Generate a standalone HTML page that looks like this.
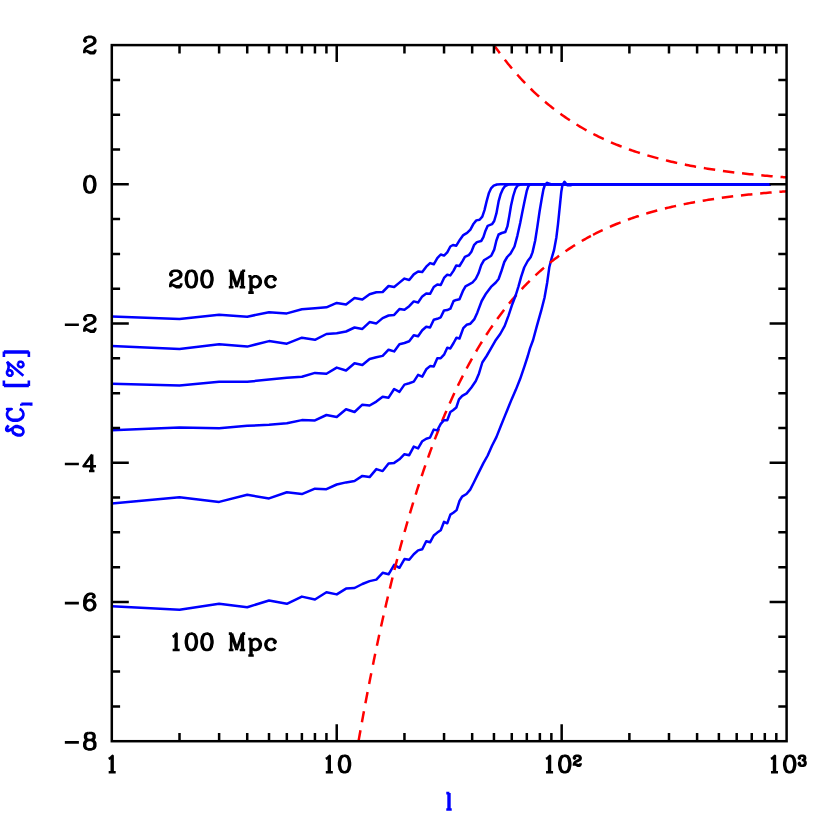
<!DOCTYPE html>
<html><head><meta charset="utf-8"><style>
html,body{margin:0;padding:0;background:#fff;}
body{width:830px;height:830px;overflow:hidden;font-family:"Liberation Sans",sans-serif;}
svg{display:block;}
</style></head><body>
<svg width="830" height="830" viewBox="0 0 830 830">
<rect width="830" height="830" fill="#fff"/>
<path d="M85.12,40.03 L85.90,40.81 L85.12,41.59 L84.34,40.81 L84.34,40.03 L85.12,38.47 L85.90,37.69 L88.24,36.91 L91.36,36.91 L93.70,37.69 L94.48,38.47 L95.26,40.03 L95.26,41.59 L94.48,43.15 L92.14,44.71 L88.24,46.27 L86.68,47.05 L85.12,48.61 L84.34,50.95 L84.34,53.29 M91.36,36.91 L92.92,37.69 L93.70,38.47 L94.48,40.03 L94.48,41.59 L93.70,43.15 L91.36,44.71 L88.24,46.27 M84.34,51.73 L85.12,50.95 L86.68,50.95 L90.58,52.51 L92.92,52.51 L94.48,51.73 L95.26,50.95 M86.68,50.95 L90.58,53.29 L93.70,53.29 L94.48,52.51 L95.26,50.95 L95.26,49.39" fill="none" stroke="#000" stroke-width="2.60" stroke-linecap="butt" stroke-linejoin="round"/>
<path d="M89.02,176.13 L86.68,176.91 L85.12,179.25 L84.34,183.15 L84.34,185.49 L85.12,189.39 L86.68,191.73 L89.02,192.51 L90.58,192.51 L92.92,191.73 L94.48,189.39 L95.26,185.49 L95.26,183.15 L94.48,179.25 L92.92,176.91 L90.58,176.13 L89.02,176.13 M89.02,176.13 L87.46,176.91 L86.68,177.69 L85.90,179.25 L85.12,183.15 L85.12,185.49 L85.90,189.39 L86.68,190.95 L87.46,191.73 L89.02,192.51 M90.58,192.51 L92.14,191.73 L92.92,190.95 L93.70,189.39 L94.48,185.49 L94.48,183.15 L93.70,179.25 L92.92,177.69 L92.14,176.91 L90.58,176.13" fill="none" stroke="#000" stroke-width="2.60" stroke-linecap="butt" stroke-linejoin="round"/>
<path d="M64.84,324.71 L78.88,324.71 M85.12,318.47 L85.90,319.25 L85.12,320.03 L84.34,319.25 L84.34,318.47 L85.12,316.91 L85.90,316.13 L88.24,315.35 L91.36,315.35 L93.70,316.13 L94.48,316.91 L95.26,318.47 L95.26,320.03 L94.48,321.59 L92.14,323.15 L88.24,324.71 L86.68,325.49 L85.12,327.05 L84.34,329.39 L84.34,331.73 M91.36,315.35 L92.92,316.13 L93.70,316.91 L94.48,318.47 L94.48,320.03 L93.70,321.59 L91.36,323.15 L88.24,324.71 M84.34,330.17 L85.12,329.39 L86.68,329.39 L90.58,330.95 L92.92,330.95 L94.48,330.17 L95.26,329.39 M86.68,329.39 L90.58,331.73 L93.70,331.73 L94.48,330.95 L95.26,329.39 L95.26,327.83" fill="none" stroke="#000" stroke-width="2.60" stroke-linecap="butt" stroke-linejoin="round"/>
<path d="M64.84,463.93 L78.88,463.93 M91.36,456.13 L91.36,470.95 M92.14,454.57 L92.14,470.95 M92.14,454.57 L83.56,466.27 L96.04,466.27 M89.02,470.95 L94.48,470.95" fill="none" stroke="#000" stroke-width="2.60" stroke-linecap="butt" stroke-linejoin="round"/>
<path d="M64.84,603.15 L78.88,603.15 M93.70,596.13 L92.92,596.91 L93.70,597.69 L94.48,596.91 L94.48,596.13 L93.70,594.57 L92.14,593.79 L89.80,593.79 L87.46,594.57 L85.90,596.13 L85.12,597.69 L84.34,600.81 L84.34,605.49 L85.12,607.83 L86.68,609.39 L89.02,610.17 L90.58,610.17 L92.92,609.39 L94.48,607.83 L95.26,605.49 L95.26,604.71 L94.48,602.37 L92.92,600.81 L90.58,600.03 L89.80,600.03 L87.46,600.81 L85.90,602.37 L85.12,604.71 M89.80,593.79 L88.24,594.57 L86.68,596.13 L85.90,597.69 L85.12,600.81 L85.12,605.49 L85.90,607.83 L87.46,609.39 L89.02,610.17 M90.58,610.17 L92.14,609.39 L93.70,607.83 L94.48,605.49 L94.48,604.71 L93.70,602.37 L92.14,600.81 L90.58,600.03" fill="none" stroke="#000" stroke-width="2.60" stroke-linecap="butt" stroke-linejoin="round"/>
<path d="M64.84,742.37 L78.88,742.37 M88.24,733.01 L85.90,733.79 L85.12,735.35 L85.12,737.69 L85.90,739.25 L88.24,740.03 L91.36,740.03 L93.70,739.25 L94.48,737.69 L94.48,735.35 L93.70,733.79 L91.36,733.01 L88.24,733.01 M88.24,733.01 L86.68,733.79 L85.90,735.35 L85.90,737.69 L86.68,739.25 L88.24,740.03 M91.36,740.03 L92.92,739.25 L93.70,737.69 L93.70,735.35 L92.92,733.79 L91.36,733.01 M88.24,740.03 L85.90,740.81 L85.12,741.59 L84.34,743.15 L84.34,746.27 L85.12,747.83 L85.90,748.61 L88.24,749.39 L91.36,749.39 L93.70,748.61 L94.48,747.83 L95.26,746.27 L95.26,743.15 L94.48,741.59 L93.70,740.81 L91.36,740.03 M88.24,740.03 L86.68,740.81 L85.90,741.59 L85.12,743.15 L85.12,746.27 L85.90,747.83 L86.68,748.61 L88.24,749.39 M91.36,749.39 L92.92,748.61 L93.70,747.83 L94.48,746.27 L94.48,743.15 L93.70,741.59 L92.92,740.81 L91.36,740.03" fill="none" stroke="#000" stroke-width="2.60" stroke-linecap="butt" stroke-linejoin="round"/>
<path d="M108.68,758.93 L110.24,758.15 L112.58,755.81 L112.58,772.19 M111.80,756.59 L111.80,772.19 M108.68,772.19 L115.70,772.19" fill="none" stroke="#000" stroke-width="2.60" stroke-linecap="butt" stroke-linejoin="round"/>
<path d="M325.81,758.93 L327.37,758.15 L329.71,755.81 L329.71,772.19 M328.93,756.59 L328.93,772.19 M325.81,772.19 L332.83,772.19 M343.75,755.81 L341.41,756.59 L339.85,758.93 L339.07,762.83 L339.07,765.17 L339.85,769.07 L341.41,771.41 L343.75,772.19 L345.31,772.19 L347.65,771.41 L349.21,769.07 L349.99,765.17 L349.99,762.83 L349.21,758.93 L347.65,756.59 L345.31,755.81 L343.75,755.81 M343.75,755.81 L342.19,756.59 L341.41,757.37 L340.63,758.93 L339.85,762.83 L339.85,765.17 L340.63,769.07 L341.41,770.63 L342.19,771.41 L343.75,772.19 M345.31,772.19 L346.87,771.41 L347.65,770.63 L348.43,769.07 L349.21,765.17 L349.21,762.83 L348.43,758.93 L347.65,757.37 L346.87,756.59 L345.31,755.81" fill="none" stroke="#000" stroke-width="2.60" stroke-linecap="butt" stroke-linejoin="round"/>
<path d="M546.05,758.93 L547.61,758.15 L549.95,755.81 L549.95,772.19 M549.17,756.59 L549.17,772.19 M546.05,772.19 L553.07,772.19 M563.99,755.81 L561.65,756.59 L560.09,758.93 L559.31,762.83 L559.31,765.17 L560.09,769.07 L561.65,771.41 L563.99,772.19 L565.55,772.19 L567.89,771.41 L569.45,769.07 L570.23,765.17 L570.23,762.83 L569.45,758.93 L567.89,756.59 L565.55,755.81 L563.99,755.81 M563.99,755.81 L562.43,756.59 L561.65,757.37 L560.87,758.93 L560.09,762.83 L560.09,765.17 L560.87,769.07 L561.65,770.63 L562.43,771.41 L563.99,772.19 M565.55,772.19 L567.11,771.41 L567.89,770.63 L568.67,769.07 L569.45,765.17 L569.45,762.83 L568.67,758.93 L567.89,757.37 L567.11,756.59 L565.55,755.81" fill="none" stroke="#000" stroke-width="2.60" stroke-linecap="butt" stroke-linejoin="round"/>
<path d="M574.45,757.69 L574.92,758.16 L574.45,758.63 L573.98,758.16 L573.98,757.69 L574.45,756.75 L574.92,756.28 L576.33,755.81 L578.21,755.81 L579.62,756.28 L580.09,756.75 L580.56,757.69 L580.56,758.63 L580.09,759.57 L578.68,760.51 L576.33,761.45 L575.39,761.92 L574.45,762.86 L573.98,764.27 L573.98,765.68 M578.21,755.81 L579.15,756.28 L579.62,756.75 L580.09,757.69 L580.09,758.63 L579.62,759.57 L578.21,760.51 L576.33,761.45 M573.98,764.74 L574.45,764.27 L575.39,764.27 L577.74,765.21 L579.15,765.21 L580.09,764.74 L580.56,764.27 M575.39,764.27 L577.74,765.68 L579.62,765.68 L580.09,765.21 L580.56,764.27 L580.56,763.33" fill="none" stroke="#000" stroke-width="2.60" stroke-linecap="butt" stroke-linejoin="round"/>
<path d="M770.98,758.93 L772.54,758.15 L774.88,755.81 L774.88,772.19 M774.10,756.59 L774.10,772.19 M770.98,772.19 L778.00,772.19 M788.92,755.81 L786.58,756.59 L785.02,758.93 L784.24,762.83 L784.24,765.17 L785.02,769.07 L786.58,771.41 L788.92,772.19 L790.48,772.19 L792.82,771.41 L794.38,769.07 L795.16,765.17 L795.16,762.83 L794.38,758.93 L792.82,756.59 L790.48,755.81 L788.92,755.81 M788.92,755.81 L787.36,756.59 L786.58,757.37 L785.80,758.93 L785.02,762.83 L785.02,765.17 L785.80,769.07 L786.58,770.63 L787.36,771.41 L788.92,772.19 M790.48,772.19 L792.04,771.41 L792.82,770.63 L793.60,769.07 L794.38,765.17 L794.38,762.83 L793.60,758.93 L792.82,757.37 L792.04,756.59 L790.48,755.81" fill="none" stroke="#000" stroke-width="2.60" stroke-linecap="butt" stroke-linejoin="round"/>
<path d="M799.38,757.69 L799.85,758.16 L799.38,758.63 L798.91,758.16 L798.91,757.69 L799.38,756.75 L799.85,756.28 L801.26,755.81 L803.14,755.81 L804.55,756.28 L805.02,757.22 L805.02,758.63 L804.55,759.57 L803.14,760.04 L801.73,760.04 M803.14,755.81 L804.08,756.28 L804.55,757.22 L804.55,758.63 L804.08,759.57 L803.14,760.04 M803.14,760.04 L804.08,760.51 L805.02,761.45 L805.49,762.39 L805.49,763.80 L805.02,764.74 L804.55,765.21 L803.14,765.68 L801.26,765.68 L799.85,765.21 L799.38,764.74 L798.91,763.80 L798.91,763.33 L799.38,762.86 L799.85,763.33 L799.38,763.80 M804.55,760.98 L805.02,762.39 L805.02,763.80 L804.55,764.74 L804.08,765.21 L803.14,765.68" fill="none" stroke="#000" stroke-width="2.60" stroke-linecap="butt" stroke-linejoin="round"/>
<path d="M171.08,273.93 L171.86,274.71 L171.08,275.49 L170.30,274.71 L170.30,273.93 L171.08,272.37 L171.86,271.59 L174.20,270.81 L177.32,270.81 L179.66,271.59 L180.44,272.37 L181.22,273.93 L181.22,275.49 L180.44,277.05 L178.10,278.61 L174.20,280.17 L172.64,280.95 L171.08,282.51 L170.30,284.85 L170.30,287.19 M177.32,270.81 L178.88,271.59 L179.66,272.37 L180.44,273.93 L180.44,275.49 L179.66,277.05 L177.32,278.61 L174.20,280.17 M170.30,285.63 L171.08,284.85 L172.64,284.85 L176.54,286.41 L178.88,286.41 L180.44,285.63 L181.22,284.85 M172.64,284.85 L176.54,287.19 L179.66,287.19 L180.44,286.41 L181.22,284.85 L181.22,283.29 M190.58,270.81 L188.24,271.59 L186.68,273.93 L185.90,277.83 L185.90,280.17 L186.68,284.07 L188.24,286.41 L190.58,287.19 L192.14,287.19 L194.48,286.41 L196.04,284.07 L196.82,280.17 L196.82,277.83 L196.04,273.93 L194.48,271.59 L192.14,270.81 L190.58,270.81 M190.58,270.81 L189.02,271.59 L188.24,272.37 L187.46,273.93 L186.68,277.83 L186.68,280.17 L187.46,284.07 L188.24,285.63 L189.02,286.41 L190.58,287.19 M192.14,287.19 L193.70,286.41 L194.48,285.63 L195.26,284.07 L196.04,280.17 L196.04,277.83 L195.26,273.93 L194.48,272.37 L193.70,271.59 L192.14,270.81 M206.18,270.81 L203.84,271.59 L202.28,273.93 L201.50,277.83 L201.50,280.17 L202.28,284.07 L203.84,286.41 L206.18,287.19 L207.74,287.19 L210.08,286.41 L211.64,284.07 L212.42,280.17 L212.42,277.83 L211.64,273.93 L210.08,271.59 L207.74,270.81 L206.18,270.81 M206.18,270.81 L204.62,271.59 L203.84,272.37 L203.06,273.93 L202.28,277.83 L202.28,280.17 L203.06,284.07 L203.84,285.63 L204.62,286.41 L206.18,287.19 M207.74,287.19 L209.30,286.41 L210.08,285.63 L210.86,284.07 L211.64,280.17 L211.64,277.83 L210.86,273.93 L210.08,272.37 L209.30,271.59 L207.74,270.81 M231.14,270.81 L231.14,287.19 M231.92,270.81 L236.60,284.85 M231.14,270.81 L236.60,287.19 M242.06,270.81 L236.60,287.19 M242.06,270.81 L242.06,287.19 M242.84,270.81 L242.84,287.19 M228.80,270.81 L231.92,270.81 M242.06,270.81 L245.18,270.81 M228.80,287.19 L233.48,287.19 M239.72,287.19 L245.18,287.19 M250.64,276.27 L250.64,292.65 M251.42,276.27 L251.42,292.65 M251.42,278.61 L252.98,277.05 L254.54,276.27 L256.10,276.27 L258.44,277.05 L260.00,278.61 L260.78,280.95 L260.78,282.51 L260.00,284.85 L258.44,286.41 L256.10,287.19 L254.54,287.19 L252.98,286.41 L251.42,284.85 M256.10,276.27 L257.66,277.05 L259.22,278.61 L260.00,280.95 L260.00,282.51 L259.22,284.85 L257.66,286.41 L256.10,287.19 M248.30,276.27 L251.42,276.27 M248.30,292.65 L253.76,292.65 M274.82,278.61 L274.04,279.39 L274.82,280.17 L275.60,279.39 L275.60,278.61 L274.04,277.05 L272.48,276.27 L270.14,276.27 L267.80,277.05 L266.24,278.61 L265.46,280.95 L265.46,282.51 L266.24,284.85 L267.80,286.41 L270.14,287.19 L271.70,287.19 L274.04,286.41 L275.60,284.85 M270.14,276.27 L268.58,277.05 L267.02,278.61 L266.24,280.95 L266.24,282.51 L267.02,284.85 L268.58,286.41 L270.14,287.19" fill="none" stroke="#000" stroke-width="2.60" stroke-linecap="butt" stroke-linejoin="round"/>
<path d="M172.64,636.73 L174.20,635.95 L176.54,633.61 L176.54,649.99 M175.76,634.39 L175.76,649.99 M172.64,649.99 L179.66,649.99 M190.58,633.61 L188.24,634.39 L186.68,636.73 L185.90,640.63 L185.90,642.97 L186.68,646.87 L188.24,649.21 L190.58,649.99 L192.14,649.99 L194.48,649.21 L196.04,646.87 L196.82,642.97 L196.82,640.63 L196.04,636.73 L194.48,634.39 L192.14,633.61 L190.58,633.61 M190.58,633.61 L189.02,634.39 L188.24,635.17 L187.46,636.73 L186.68,640.63 L186.68,642.97 L187.46,646.87 L188.24,648.43 L189.02,649.21 L190.58,649.99 M192.14,649.99 L193.70,649.21 L194.48,648.43 L195.26,646.87 L196.04,642.97 L196.04,640.63 L195.26,636.73 L194.48,635.17 L193.70,634.39 L192.14,633.61 M206.18,633.61 L203.84,634.39 L202.28,636.73 L201.50,640.63 L201.50,642.97 L202.28,646.87 L203.84,649.21 L206.18,649.99 L207.74,649.99 L210.08,649.21 L211.64,646.87 L212.42,642.97 L212.42,640.63 L211.64,636.73 L210.08,634.39 L207.74,633.61 L206.18,633.61 M206.18,633.61 L204.62,634.39 L203.84,635.17 L203.06,636.73 L202.28,640.63 L202.28,642.97 L203.06,646.87 L203.84,648.43 L204.62,649.21 L206.18,649.99 M207.74,649.99 L209.30,649.21 L210.08,648.43 L210.86,646.87 L211.64,642.97 L211.64,640.63 L210.86,636.73 L210.08,635.17 L209.30,634.39 L207.74,633.61 M231.14,633.61 L231.14,649.99 M231.92,633.61 L236.60,647.65 M231.14,633.61 L236.60,649.99 M242.06,633.61 L236.60,649.99 M242.06,633.61 L242.06,649.99 M242.84,633.61 L242.84,649.99 M228.80,633.61 L231.92,633.61 M242.06,633.61 L245.18,633.61 M228.80,649.99 L233.48,649.99 M239.72,649.99 L245.18,649.99 M250.64,639.07 L250.64,655.45 M251.42,639.07 L251.42,655.45 M251.42,641.41 L252.98,639.85 L254.54,639.07 L256.10,639.07 L258.44,639.85 L260.00,641.41 L260.78,643.75 L260.78,645.31 L260.00,647.65 L258.44,649.21 L256.10,649.99 L254.54,649.99 L252.98,649.21 L251.42,647.65 M256.10,639.07 L257.66,639.85 L259.22,641.41 L260.00,643.75 L260.00,645.31 L259.22,647.65 L257.66,649.21 L256.10,649.99 M248.30,639.07 L251.42,639.07 M248.30,655.45 L253.76,655.45 M274.82,641.41 L274.04,642.19 L274.82,642.97 L275.60,642.19 L275.60,641.41 L274.04,639.85 L272.48,639.07 L270.14,639.07 L267.80,639.85 L266.24,641.41 L265.46,643.75 L265.46,645.31 L266.24,647.65 L267.80,649.21 L270.14,649.99 L271.70,649.99 L274.04,649.21 L275.60,647.65 M270.14,639.07 L268.58,639.85 L267.02,641.41 L266.24,643.75 L266.24,645.31 L267.02,647.65 L268.58,649.21 L270.14,649.99" fill="none" stroke="#000" stroke-width="2.60" stroke-linecap="butt" stroke-linejoin="round"/>
<path d="M448.61,793.11 L448.61,809.49 M449.39,793.11 L449.39,809.49 M446.27,793.11 L449.39,793.11 M446.27,809.49 L451.73,809.49" fill="none" stroke="#0000ff" stroke-width="2.60" stroke-linecap="butt" stroke-linejoin="round"/>
<g transform="translate(23.4,393.15) rotate(-90)">
<path d="M-34.56,-10.14 L-36.12,-10.92 L-37.68,-10.92 L-40.02,-10.14 L-41.59,-7.80 L-42.36,-5.46 L-42.36,-3.12 L-41.59,-1.56 L-40.80,-0.78 L-39.24,0.00 L-37.68,0.00 L-35.34,-0.78 L-33.78,-3.12 L-33.00,-5.46 L-33.00,-7.80 L-33.78,-9.36 L-36.91,-13.26 L-37.68,-14.82 L-37.68,-16.38 L-36.91,-17.16 L-35.34,-17.16 L-33.78,-16.38 L-32.22,-14.82 M-37.68,-10.92 L-39.24,-10.14 L-40.80,-7.80 L-41.59,-5.46 L-41.59,-2.34 L-40.80,-0.78 M-37.68,0.00 L-36.12,-0.78 L-34.56,-3.12 L-33.78,-5.46 L-33.78,-8.58 L-34.56,-10.14 L-36.12,-12.48 L-36.91,-14.04 L-36.91,-15.60 L-36.12,-16.38 L-34.56,-16.38 L-32.22,-14.82 M-16.62,-14.04 L-15.84,-11.70 L-15.84,-16.38 L-16.62,-14.04 L-18.18,-15.60 L-20.52,-16.38 L-22.08,-16.38 L-24.42,-15.60 L-25.98,-14.04 L-26.76,-12.48 L-27.54,-10.14 L-27.54,-6.24 L-26.76,-3.90 L-25.98,-2.34 L-24.42,-0.78 L-22.08,0.00 L-20.52,0.00 L-18.18,-0.78 L-16.62,-2.34 L-15.84,-3.90 M-22.08,-16.38 L-23.64,-15.60 L-25.20,-14.04 L-25.98,-12.48 L-26.76,-10.14 L-26.76,-6.24 L-25.98,-3.90 L-25.20,-2.34 L-23.64,-0.78 L-22.08,0.00 M-11.15,-2.07 L-11.15,7.80 M-10.68,-2.07 L-10.68,7.80 M-12.56,-2.07 L-10.68,-2.07 M-12.56,7.80 L-9.27,7.80 M7.27,-19.50 L7.27,5.46 M8.05,-19.50 L8.05,5.46 M7.27,-19.50 L12.73,-19.50 M7.27,5.46 L12.73,5.46 M31.45,-16.38 L29.89,-15.60 L27.55,-14.82 L25.21,-14.82 L22.87,-15.60 L21.30,-16.38 L19.75,-16.38 L18.19,-15.60 L17.41,-14.04 L17.41,-12.48 L18.97,-10.92 L20.53,-10.92 L22.09,-11.70 L22.87,-13.26 L22.87,-14.82 L21.30,-16.38 M31.45,-16.38 L17.41,0.00 M29.89,-5.46 L28.33,-5.46 L26.77,-4.68 L25.98,-3.12 L25.98,-1.56 L27.55,0.00 L29.11,0.00 L30.67,-0.78 L31.45,-2.34 L31.45,-3.90 L29.89,-5.46 M40.80,-19.50 L40.80,5.46 M41.58,-19.50 L41.58,5.46 M36.12,-19.50 L41.58,-19.50 M36.12,5.46 L41.58,5.46" fill="none" stroke="#0000ff" stroke-width="2.60" stroke-linecap="butt" stroke-linejoin="round"/>
</g>
<clipPath id="c"><rect x="111.80" y="45.10" width="674.80" height="696.10"/></clipPath>
<g clip-path="url(#c)">
<path d="M111.80,606.20 L179.51,609.80 L219.12,603.70 L247.22,607.20 L269.02,600.50 L286.83,603.85 L301.89,596.60 L314.94,599.50 L326.44,592.30 L336.73,594.40 L346.04,588.60 L354.54,588.00 L362.36,584.00 L369.60,581.10 L376.34,579.60 L382.65,572.80 L388.57,574.30 L394.15,564.90 L399.43,567.80 L404.45,559.10 L409.21,559.80 L413.76,554.30 L418.10,550.40 L422.26,549.30 L426.24,541.30 L430.07,542.30 L433.76,535.50 L437.31,532.60 L440.74,530.20 L444.05,521.80 L447.26,523.30 L450.36,514.60 L453.30,512.80 L456.60,510.10 L459.50,501.00 L462.10,496.60 L466.50,494.00 L470.20,489.60 L473.70,482.80 L477.80,474.40 L483.40,463.10 L487.70,455.50 L492.00,445.80 L496.40,437.10 L500.70,426.30 L505.10,415.40 L507.20,410.20 L511.60,399.40 L515.90,389.60 L520.20,378.80 L524.60,365.80 L527.80,356.00 L530.00,348.40 L533.10,340.00 L536.90,325.90 L541.20,310.70 L544.50,297.70 L547.20,282.50 L549.30,267.30 L551.70,258.00 L554.00,250.20 L556.40,237.20 L558.00,224.20 L559.10,213.40 L560.20,202.50 L561.30,191.70 L562.40,185.20 L564.50,181.70 L567.20,185.20 L570.50,185.20 L573.70,184.25 L770.50,184.25" fill="none" stroke="#0000ff" stroke-width="2.50" stroke-linejoin="round"/>
<path d="M341.79,-476.63 L341.91,-475.87 L342.02,-475.11 L342.13,-474.36 L342.24,-473.60 L342.36,-472.84 L342.47,-472.08 L342.58,-471.33 L342.69,-470.57 L342.81,-469.82 L342.92,-469.07 M344.16,-460.85 L344.38,-459.36 L344.61,-457.88 L344.83,-456.40 L345.06,-454.93 L345.28,-453.46 L345.51,-451.99 L345.73,-450.53 L345.84,-449.80 M347.19,-441.10 L347.42,-439.66 L347.64,-438.23 L347.87,-436.79 L348.09,-435.37 L348.32,-433.94 L348.54,-432.52 L348.77,-431.10 L348.88,-430.39 M350.23,-421.96 L350.45,-420.56 L350.68,-419.17 L350.90,-417.78 L351.13,-416.40 L351.35,-415.02 L351.58,-413.64 L351.80,-412.26 L352.03,-410.89 M353.38,-402.73 L353.72,-400.70 L354.05,-398.68 L354.39,-396.67 L354.73,-394.67 L355.07,-392.67 L355.29,-391.35 M356.64,-383.45 L356.98,-381.49 L357.31,-379.54 L357.65,-377.60 L357.99,-375.66 L358.33,-373.73 L358.55,-372.44 M360.13,-363.54 L360.46,-361.65 L360.80,-359.77 L361.14,-357.90 L361.48,-356.03 L361.81,-354.16 L362.04,-352.92 M363.61,-344.33 L363.95,-342.51 L364.29,-340.69 L364.63,-338.88 L364.96,-337.08 L365.30,-335.28 L365.64,-333.49 M367.21,-325.21 L367.55,-323.46 L367.89,-321.70 L368.22,-319.96 L368.56,-318.22 L368.90,-316.49 L369.24,-314.76 L369.35,-314.19 M371.04,-305.65 L371.37,-303.96 L371.71,-302.28 L372.05,-300.60 L372.39,-298.93 L372.72,-297.26 L373.06,-295.60 L373.17,-295.05 M374.86,-286.84 L375.20,-285.22 L375.53,-283.60 L375.87,-281.99 L376.21,-280.38 L376.55,-278.78 L376.88,-277.18 L377.22,-275.59 M379.02,-267.19 L379.36,-265.64 L379.70,-264.09 L380.03,-262.54 L380.37,-261.00 L380.71,-259.46 L381.05,-257.93 L381.38,-256.41 M383.18,-248.36 L383.63,-246.38 L384.08,-244.40 L384.53,-242.43 L384.98,-240.47 L385.43,-238.52 L385.77,-237.06 M387.68,-228.89 L388.13,-226.99 L388.58,-225.10 L389.03,-223.22 L389.48,-221.35 L389.93,-219.48 L390.27,-218.09 M392.29,-209.84 L392.74,-208.03 L393.19,-206.23 L393.64,-204.43 L394.09,-202.64 L394.54,-200.87 L394.99,-199.10 M397.13,-190.80 L397.58,-189.08 L398.03,-187.36 L398.48,-185.65 L398.93,-183.95 L399.38,-182.26 L399.83,-180.58 L400.05,-179.74 M402.19,-171.86 L402.64,-170.23 L403.09,-168.60 L403.54,-166.97 L403.99,-165.36 L404.44,-163.75 L404.89,-162.15 L405.23,-160.96 M407.47,-153.10 L408.04,-151.16 L408.60,-149.24 L409.16,-147.32 L409.72,-145.42 L410.29,-143.53 L410.74,-142.02 M413.10,-134.23 L413.66,-132.40 L414.22,-130.58 L414.79,-128.77 L415.35,-126.97 L415.91,-125.19 L416.47,-123.41 M419.06,-115.37 L419.62,-113.65 L420.18,-111.94 L420.75,-110.24 L421.31,-108.55 L421.87,-106.87 L422.43,-105.20 L422.66,-104.53 M425.24,-96.98 L425.81,-95.37 L426.37,-93.76 L426.93,-92.17 L427.49,-90.58 L428.06,-89.00 L428.62,-87.43 L429.07,-86.18 M431.88,-78.51 L432.55,-76.70 L433.23,-74.90 L433.90,-73.12 L434.58,-71.35 L435.25,-69.59 L435.93,-67.84 M438.97,-60.12 L439.64,-58.44 L440.32,-56.77 L440.99,-55.11 L441.66,-53.46 L442.34,-51.82 L443.01,-50.20 L443.35,-49.39 M446.50,-41.97 L447.29,-40.16 L448.08,-38.36 L448.86,-36.57 L449.65,-34.79 L450.44,-33.04 L451.11,-31.54 M454.49,-24.21 L455.27,-22.54 L456.06,-20.88 L456.85,-19.23 L457.64,-17.60 L458.42,-15.98 L459.21,-14.37 L459.55,-13.68 M463.15,-6.52 L464.05,-4.77 L464.95,-3.04 L465.85,-1.32 L466.74,0.38 L467.64,2.07 L468.54,3.74 M472.37,10.67 L473.27,12.26 L474.17,13.84 L475.07,15.40 L475.97,16.95 L476.87,18.49 L477.77,20.01 L478.22,20.76 M482.38,27.58 L483.39,29.20 L484.40,30.80 L485.41,32.38 L486.43,33.95 L487.44,35.50 L488.45,37.03 L488.56,37.20 M493.17,43.98 L494.30,45.59 L495.42,47.18 L496.55,48.75 L497.67,50.30 L498.80,51.83 L499.81,53.20 M504.76,59.68 L505.88,61.10 L507.01,62.51 L508.13,63.91 L509.26,65.29 L510.38,66.65 L511.51,68.00 L511.96,68.53 M517.24,74.63 L518.48,76.01 L519.72,77.37 L520.95,78.72 L522.19,80.05 L523.43,81.36 L524.67,82.65 L525.12,83.12 M530.63,88.67 L531.98,89.99 L533.33,91.28 L534.67,92.56 L536.02,93.82 L537.37,95.06 L538.72,96.28 L539.06,96.59 M545.02,101.78 L546.48,103.00 L547.95,104.21 L549.41,105.40 L550.87,106.58 L552.33,107.73 L553.79,108.87 L554.02,109.04 M560.43,113.82 L562.00,114.95 L563.58,116.06 L565.15,117.15 L566.73,118.22 L568.30,119.28 L569.88,120.32 M576.51,124.52 L578.20,125.55 L579.89,126.55 L581.57,127.54 L583.26,128.52 L584.95,129.47 L586.52,130.35 M593.38,134.01 L595.07,134.87 L596.76,135.72 L598.44,136.55 L600.13,137.37 L601.82,138.17 L603.50,138.96 L603.73,139.06 M610.93,142.28 L612.73,143.05 L614.53,143.80 L616.33,144.54 L618.12,145.27 L619.92,145.98 L621.61,146.63 M628.92,149.35 L630.72,149.99 L632.52,150.62 L634.32,151.23 L636.12,151.84 L637.92,152.43 L639.72,153.01 L639.83,153.05 M647.37,155.37 L649.17,155.90 L650.97,156.42 L652.76,156.92 L654.56,157.42 L656.36,157.92 L658.16,158.40 L658.39,158.46 M665.92,160.38 L667.72,160.81 L669.52,161.24 L671.32,161.66 L673.12,162.08 L674.92,162.48 L676.72,162.88 L677.17,162.98 M684.82,164.59 L686.62,164.95 L688.42,165.30 L690.22,165.65 L692.02,165.99 L693.82,166.32 L695.61,166.65 L696.06,166.73 M703.82,168.08 L705.74,168.39 L707.65,168.70 L709.56,169.00 L711.47,169.30 L713.38,169.59 L715.18,169.86 M722.94,170.96 L724.86,171.22 L726.77,171.48 L728.68,171.73 L730.59,171.97 L732.50,172.21 L734.30,172.43 M742.06,173.34 L743.98,173.55 L745.89,173.76 L747.80,173.96 L749.71,174.17 L751.62,174.36 L753.53,174.56 M761.30,175.30 L763.21,175.48 L765.12,175.65 L767.03,175.82 L768.94,175.98 L770.85,176.14 L772.65,176.29 M780.53,176.91 L781.54,176.99 L782.55,177.06 L783.56,177.14 L784.58,177.21 L785.59,177.29 L786.60,177.36" fill="none" stroke="#ff0000" stroke-width="2.50" />
<path d="M342.92,837.71 L343.14,836.21 L343.37,834.71 L343.59,833.21 L343.82,831.72 L344.04,830.23 L344.27,828.74 L344.49,827.26 M345.84,818.44 L346.07,816.98 L346.29,815.53 L346.52,814.08 L346.74,812.63 L346.97,811.18 L347.19,809.74 L347.42,808.30 L347.53,807.58 M348.88,799.03 L349.10,797.62 L349.33,796.21 L349.55,794.80 L349.78,793.40 L350.00,792.00 L350.23,790.60 L350.45,789.20 L350.57,788.51 M351.92,780.22 L352.14,778.85 L352.37,777.48 L352.59,776.12 L352.82,774.75 L353.04,773.40 L353.27,772.04 L353.49,770.69 L353.72,769.34 M355.18,760.65 L355.40,759.33 L355.63,758.00 L355.85,756.68 L356.08,755.37 L356.30,754.05 L356.53,752.74 L356.75,751.44 L356.98,750.13 M358.44,741.73 L358.78,739.80 L359.11,737.89 L359.45,735.98 L359.79,734.08 L360.13,732.18 L360.46,730.29 M361.93,722.18 L362.26,720.33 L362.60,718.48 L362.94,716.64 L363.28,714.80 L363.61,712.97 L363.95,711.15 M365.41,703.33 L365.75,701.54 L366.09,699.75 L366.42,697.98 L366.76,696.20 L367.10,694.44 L367.44,692.68 L367.55,692.10 M369.12,683.98 L369.46,682.25 L369.80,680.54 L370.14,678.83 L370.47,677.12 L370.81,675.42 L371.15,673.73 L371.26,673.17 M372.95,664.80 L373.29,663.14 L373.62,661.49 L373.96,659.84 L374.30,658.20 L374.63,656.57 L374.97,654.94 L375.20,653.86 M376.88,645.82 L377.22,644.23 L377.56,642.64 L377.90,641.06 L378.23,639.49 L378.57,637.92 L378.91,636.35 L379.25,634.80 M381.05,626.57 L381.38,625.05 L381.72,623.53 L382.06,622.02 L382.39,620.51 L382.73,619.00 L383.07,617.50 L383.41,616.01 L383.52,615.51 M385.32,607.64 L385.77,605.70 L386.22,603.76 L386.67,601.83 L387.12,599.92 L387.57,598.01 L387.91,596.58 M389.82,588.59 L390.27,586.73 L390.72,584.88 L391.17,583.04 L391.62,581.21 L392.07,579.39 L392.52,577.57 M394.43,569.95 L394.88,568.18 L395.33,566.42 L395.78,564.66 L396.23,562.91 L396.68,561.17 L397.13,559.44 L397.24,559.01 M399.38,550.90 L399.83,549.22 L400.28,547.54 L400.73,545.87 L401.18,544.21 L401.63,542.56 L402.08,540.91 L402.30,540.09 M404.55,531.99 L405.00,530.40 L405.45,528.81 L405.90,527.22 L406.35,525.65 L406.80,524.08 L407.25,522.52 L407.59,521.35 M409.95,513.30 L410.51,511.41 L411.07,509.54 L411.64,507.67 L412.20,505.81 L412.76,503.97 L413.21,502.50 M415.68,494.54 L416.25,492.76 L416.81,490.99 L417.37,489.23 L417.93,487.48 L418.50,485.74 L419.06,484.01 M421.65,476.18 L422.21,474.50 L422.77,472.84 L423.33,471.18 L423.90,469.53 L424.46,467.90 L425.02,466.27 L425.36,465.30 M428.06,457.64 L428.62,456.07 L429.18,454.51 L429.74,452.96 L430.31,451.42 L430.87,449.89 L431.43,448.36 L431.88,447.15 M434.80,439.40 L435.48,437.64 L436.15,435.90 L436.83,434.17 L437.50,432.45 L438.18,430.74 L438.85,429.04 L438.97,428.76 M442.00,421.28 L442.68,419.65 L443.35,418.03 L444.03,416.42 L444.70,414.82 L445.38,413.23 L446.05,411.66 L446.39,410.87 M449.65,403.43 L450.44,401.68 L451.22,399.93 L452.01,398.20 L452.80,396.48 L453.59,394.78 L454.37,393.09 M457.86,385.77 L458.65,384.16 L459.43,382.55 L460.22,380.96 L461.01,379.38 L461.80,377.82 L462.58,376.26 L462.92,375.60 M466.63,368.47 L467.53,366.78 L468.43,365.11 L469.33,363.45 L470.23,361.81 L471.13,360.18 L472.03,358.57 M476.08,351.50 L476.98,349.96 L477.88,348.44 L478.78,346.94 L479.68,345.45 L480.58,343.97 L481.48,342.51 L481.93,341.78 M486.20,335.04 L487.21,333.49 L488.23,331.95 L489.24,330.43 L490.25,328.92 L491.26,327.43 L492.27,325.96 L492.61,325.47 M497.22,318.96 L498.35,317.42 L499.47,315.89 L500.60,314.39 L501.72,312.90 L502.85,311.43 L503.97,309.97 L504.08,309.83 M509.03,303.63 L510.27,302.13 L511.51,300.64 L512.74,299.18 L513.98,297.74 L515.22,296.31 L516.46,294.90 M521.74,289.07 L523.09,287.64 L524.44,286.22 L525.79,284.82 L527.14,283.44 L528.49,282.08 L529.73,280.85 M535.46,275.35 L536.81,274.10 L538.16,272.87 L539.51,271.65 L540.86,270.45 L542.21,269.27 L543.56,268.11 L544.01,267.72 M549.97,262.78 L551.43,261.62 L552.89,260.47 L554.36,259.34 L555.82,258.22 L557.28,257.13 L558.74,256.05 L559.08,255.80 M565.49,251.26 L567.07,250.19 L568.64,249.13 L570.21,248.10 L571.79,247.08 L573.36,246.07 L574.94,245.09 L575.05,245.02 M581.80,240.97 L583.26,240.12 L584.72,239.30 L586.18,238.48 L587.65,237.67 L589.11,236.88 L590.57,236.10 L590.91,235.92 M593.04,234.81 L594.62,234.00 L596.19,233.20 L597.77,232.42 L599.34,231.65 L600.92,230.90 L602.49,230.15 L602.72,230.05 M609.91,226.80 L611.71,226.02 L613.51,225.26 L615.31,224.51 L617.11,223.78 L618.91,223.06 L620.60,222.40 M627.91,219.65 L629.71,219.01 L631.51,218.37 L633.31,217.75 L635.11,217.14 L636.91,216.54 L638.71,215.96 L638.82,215.92 M646.24,213.61 L648.04,213.07 L649.84,212.55 L651.64,212.03 L653.44,211.53 L655.24,211.03 L657.04,210.54 L657.26,210.48 M664.91,208.51 L666.71,208.07 L668.51,207.64 L670.31,207.21 L672.11,206.79 L673.91,206.38 L675.71,205.98 L676.05,205.91 M683.69,204.28 L685.60,203.89 L687.52,203.51 L689.43,203.14 L691.34,202.78 L693.25,202.42 L695.05,202.09 M702.70,200.75 L704.61,200.43 L706.52,200.12 L708.44,199.81 L710.35,199.51 L712.26,199.22 L714.06,198.95 M721.82,197.83 L723.73,197.57 L725.64,197.31 L727.55,197.06 L729.47,196.81 L731.38,196.57 L733.18,196.35 M740.94,195.43 L742.85,195.21 L744.76,195.00 L746.67,194.80 L748.59,194.59 L750.50,194.39 L752.41,194.20 M760.17,193.44 L762.08,193.27 L763.99,193.09 L765.91,192.92 L767.82,192.76 L769.73,192.59 L771.64,192.43 M779.40,191.81 L780.53,191.73 L781.65,191.64 L782.78,191.56 L783.90,191.48 L785.03,191.39 L786.15,191.31 L786.60,191.28" fill="none" stroke="#ff0000" stroke-width="2.50" />
<path d="M111.80,503.50 L179.51,497.15 L219.12,501.90 L247.22,494.80 L269.02,498.40 L286.83,492.20 L301.89,494.10 L314.94,488.70 L326.44,489.20 L336.73,484.50 L346.04,482.40 L354.54,481.00 L362.36,475.90 L369.60,477.10 L376.34,469.10 L382.65,471.10 L388.57,463.60 L394.15,462.90 L399.43,459.30 L404.45,454.20 L409.21,455.20 L413.76,446.60 L418.10,448.40 L422.26,441.20 L426.24,438.70 L430.07,437.60 L433.76,429.60 L437.31,430.40 L440.74,423.90 L444.05,420.20 L447.26,420.20 L450.36,412.00 L453.00,410.20 L456.30,407.50 L459.00,399.40 L462.20,395.90 L466.60,393.40 L471.40,387.50 L475.80,381.00 L479.00,373.40 L482.30,362.50 L486.60,356.00 L491.00,348.40 L495.30,340.80 L500.20,334.00 L504.70,325.90 L508.50,315.60 L512.30,304.20 L515.80,295.00 L518.50,286.30 L521.20,276.60 L524.20,267.50 L527.70,261.00 L530.60,257.30 L532.50,252.40 L535.20,240.50 L537.40,226.40 L539.60,211.20 L541.80,198.20 L543.40,189.50 L545.00,184.60 L547.20,182.80 L549.30,183.60 L551.00,184.25 L770.50,184.25" fill="none" stroke="#0000ff" stroke-width="2.50" stroke-linejoin="round"/>
<path d="M111.80,430.36 L179.51,427.47 L219.12,428.25 L247.22,425.85 L269.02,424.70 L286.83,423.25 L301.89,420.10 L314.94,420.40 L326.44,415.00 L336.73,417.00 L346.04,409.20 L354.54,412.00 L362.36,404.70 L369.60,405.50 L376.34,401.60 L382.65,396.80 L388.57,397.70 L394.15,389.00 L399.43,391.90 L404.45,384.60 L409.21,383.20 L413.76,381.60 L418.10,374.80 L422.26,376.60 L426.24,369.30 L430.07,366.10 L433.76,366.40 L437.31,358.20 L440.74,358.20 L444.05,354.70 L447.26,347.80 L450.36,348.40 L453.60,343.00 L456.50,337.70 L459.50,338.50 L463.30,328.10 L466.60,324.80 L470.40,323.70 L474.20,319.40 L477.40,312.40 L481.70,301.00 L486.10,293.40 L491.00,286.90 L495.80,282.50 L498.60,279.00 L501.60,270.50 L504.30,262.00 L507.20,257.00 L510.50,253.60 L514.50,246.50 L517.40,235.60 L520.20,223.10 L522.30,212.30 L524.50,201.50 L526.70,191.20 L528.30,186.30 L529.90,184.50 L532.50,184.25 L770.50,184.25" fill="none" stroke="#0000ff" stroke-width="2.50" stroke-linejoin="round"/>
<path d="M111.80,383.70 L179.51,385.40 L219.12,381.70 L247.22,381.75 L269.02,379.60 L286.83,377.70 L301.89,376.70 L314.94,372.90 L326.44,373.80 L336.73,367.60 L346.04,370.50 L354.54,363.25 L362.36,365.00 L369.60,359.00 L376.34,357.30 L382.65,355.90 L388.57,349.70 L394.15,351.40 L399.43,344.30 L404.45,343.00 L409.21,341.30 L413.76,335.20 L418.10,336.30 L422.26,330.30 L426.24,326.70 L430.07,327.50 L433.76,319.80 L437.31,318.80 L440.74,317.30 L444.05,310.40 L447.26,310.10 L450.36,308.70 L453.60,301.00 L456.30,299.90 L459.50,299.30 L462.80,291.20 L465.50,286.30 L468.70,284.70 L472.50,282.50 L475.80,278.70 L478.50,273.30 L481.20,265.20 L483.90,260.30 L487.70,258.00 L491.20,255.80 L494.20,249.60 L496.40,240.50 L498.60,234.50 L501.80,233.00 L505.30,232.00 L507.40,226.40 L509.40,215.50 L511.00,205.80 L513.20,196.00 L515.40,189.00 L517.50,185.70 L520.20,184.50 L523.50,184.25 L770.50,184.25" fill="none" stroke="#0000ff" stroke-width="2.50" stroke-linejoin="round"/>
<path d="M111.80,346.10 L179.51,349.00 L219.12,344.20 L247.22,346.60 L269.02,341.10 L286.83,343.70 L301.89,337.70 L314.94,339.80 L326.44,334.00 L336.73,333.30 L346.04,331.50 L354.54,327.50 L362.36,328.90 L369.60,322.10 L376.34,323.40 L382.65,318.10 L388.57,315.50 L394.15,314.90 L399.43,309.10 L404.45,309.80 L409.21,306.20 L413.76,301.40 L418.10,302.50 L422.26,296.40 L426.24,293.50 L430.07,293.80 L433.76,287.00 L437.31,284.50 L440.74,285.10 L444.05,277.90 L447.26,274.70 L450.36,275.40 L453.60,270.60 L456.30,265.40 L459.50,266.00 L462.80,260.60 L464.90,256.90 L468.70,255.20 L471.40,251.70 L474.20,244.80 L476.90,242.10 L481.20,241.00 L483.40,237.20 L485.50,230.70 L487.70,225.80 L492.00,224.20 L494.20,221.00 L496.40,213.40 L498.60,201.40 L500.70,193.90 L502.90,189.00 L505.10,186.00 L508.30,184.60 L511.60,184.25 L770.50,184.25" fill="none" stroke="#0000ff" stroke-width="2.50" stroke-linejoin="round"/>
<path d="M111.80,316.46 L179.51,318.90 L219.12,314.70 L247.22,316.70 L269.02,312.20 L286.83,313.40 L301.89,309.30 L314.94,308.20 L326.44,307.30 L336.73,302.90 L346.04,304.60 L354.54,298.10 L362.36,299.60 L369.60,294.20 L376.34,292.30 L382.65,292.00 L388.57,286.00 L394.15,287.00 L399.43,282.60 L404.45,278.60 L409.21,280.00 L413.76,274.40 L418.10,271.50 L422.26,272.10 L426.24,266.70 L430.07,263.10 L433.76,264.30 L437.31,258.10 L440.74,254.50 L444.05,255.60 L447.26,252.30 L450.36,246.50 L453.00,245.00 L456.30,245.70 L460.10,239.40 L463.30,235.10 L467.10,232.90 L470.40,229.60 L473.60,223.70 L476.30,220.40 L479.60,219.70 L482.30,216.60 L484.50,210.10 L486.60,201.40 L488.80,193.30 L491.00,188.40 L493.70,185.70 L496.90,184.50 L500.70,184.25 L770.50,184.25" fill="none" stroke="#0000ff" stroke-width="2.50" stroke-linejoin="round"/>
</g>
<rect x="111.80" y="45.10" width="674.80" height="696.10" fill="none" stroke="#000" stroke-width="2.50"/>
<path d="M179.51,741.20 v-8.30 M179.51,45.10 v8.30 M219.12,741.20 v-8.30 M219.12,45.10 v8.30 M247.22,741.20 v-8.30 M247.22,45.10 v8.30 M269.02,741.20 v-8.30 M269.02,45.10 v8.30 M286.83,741.20 v-8.30 M286.83,45.10 v8.30 M301.89,741.20 v-8.30 M301.89,45.10 v8.30 M314.94,741.20 v-8.30 M314.94,45.10 v8.30 M326.44,741.20 v-8.30 M326.44,45.10 v8.30 M336.73,741.20 v-17.00 M336.73,45.10 v17.00 M404.45,741.20 v-8.30 M404.45,45.10 v8.30 M444.05,741.20 v-8.30 M444.05,45.10 v8.30 M472.16,741.20 v-8.30 M472.16,45.10 v8.30 M493.95,741.20 v-8.30 M493.95,45.10 v8.30 M511.77,741.20 v-8.30 M511.77,45.10 v8.30 M526.82,741.20 v-8.30 M526.82,45.10 v8.30 M539.87,741.20 v-8.30 M539.87,45.10 v8.30 M551.37,741.20 v-8.30 M551.37,45.10 v8.30 M561.67,741.20 v-17.00 M561.67,45.10 v17.00 M629.38,741.20 v-8.30 M629.38,45.10 v8.30 M668.99,741.20 v-8.30 M668.99,45.10 v8.30 M697.09,741.20 v-8.30 M697.09,45.10 v8.30 M718.89,741.20 v-8.30 M718.89,45.10 v8.30 M736.70,741.20 v-8.30 M736.70,45.10 v8.30 M751.76,741.20 v-8.30 M751.76,45.10 v8.30 M764.80,741.20 v-8.30 M764.80,45.10 v8.30 M776.31,741.20 v-8.30 M776.31,45.10 v8.30 M111.80,706.39 h8.30 M786.60,706.39 h-8.30 M111.80,671.59 h8.30 M786.60,671.59 h-8.30 M111.80,636.79 h8.30 M786.60,636.79 h-8.30 M111.80,601.98 h17.00 M786.60,601.98 h-17.00 M111.80,567.18 h8.30 M786.60,567.18 h-8.30 M111.80,532.37 h8.30 M786.60,532.37 h-8.30 M111.80,497.57 h8.30 M786.60,497.57 h-8.30 M111.80,462.76 h17.00 M786.60,462.76 h-17.00 M111.80,427.96 h8.30 M786.60,427.96 h-8.30 M111.80,393.15 h8.30 M786.60,393.15 h-8.30 M111.80,358.35 h8.30 M786.60,358.35 h-8.30 M111.80,323.54 h17.00 M786.60,323.54 h-17.00 M111.80,288.74 h8.30 M786.60,288.74 h-8.30 M111.80,253.93 h8.30 M786.60,253.93 h-8.30 M111.80,219.12 h8.30 M786.60,219.12 h-8.30 M111.80,184.32 h17.00 M786.60,184.32 h-17.00 M111.80,149.52 h8.30 M786.60,149.52 h-8.30 M111.80,114.71 h8.30 M786.60,114.71 h-8.30 M111.80,79.91 h8.30 M786.60,79.91 h-8.30" fill="none" stroke="#000" stroke-width="2.50"/>
</svg>
</body></html>
